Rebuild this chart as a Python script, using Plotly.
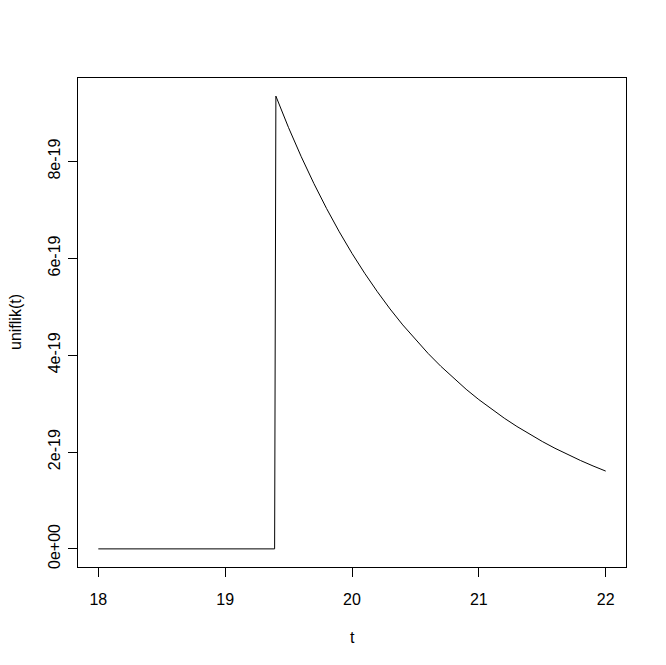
import plotly.graph_objects as go

# values
t_vals = [18.0, 19.39, 19.4, 19.5, 19.6, 19.7, 19.8, 19.9, 20.0, 20.1, 20.2, 20.3, 20.4,
          20.5, 20.6, 20.7, 20.8, 20.9, 21.0, 21.1, 21.2, 21.3, 21.4, 21.5, 21.6,
          21.7, 21.8, 21.9, 22.0]
lik_vals = [0.0, 0.0, 9.351e-19, 8.699e-19, 8.099e-19, 7.543e-19, 7.027e-19, 6.548e-19,
            6.103e-19, 5.692e-19, 5.311e-19, 4.955e-19, 4.626e-19, 4.320e-19, 4.036e-19,
            3.772e-19, 3.525e-19, 3.296e-19, 3.083e-19, 2.885e-19, 2.700e-19, 2.528e-19,
            2.367e-19, 2.218e-19, 2.078e-19, 1.948e-19, 1.827e-19, 1.713e-19, 1.607e-19]

x_ticks = [18, 19, 20, 21, 22]
x_ticklabels = ["18", "19", "20", "21", "22"]
y_ticks = [0, 2e-19, 4e-19, 6e-19, 8e-19]
y_ticklabels = ["0e+00", "2e-19", "4e-19", "6e-19", "8e-19"]

FONT = "Liberation Sans, Arial, sans-serif"

fig = go.Figure()
fig.add_trace(go.Scatter(x=t_vals, y=lik_vals, mode="lines",
                         line=dict(color="black", width=1), showlegend=False,
                         hoverinfo="skip"))

# page body has an 8px margin; plot area should sit at x 78..626, y 78..567
fig.update_layout(
    width=650, height=649,
    margin=dict(l=70, r=32, t=70, b=90),
    paper_bgcolor="white", plot_bgcolor="white",
    font=dict(family=FONT, size=16, color="black"),
    xaxis=dict(range=[17.84, 22.16], tickvals=x_ticks, ticktext=x_ticklabels,
               showgrid=False, zeroline=False, showline=True, mirror=True,
               linecolor="black", linewidth=1, ticks="outside", ticklen=9,
               tickcolor="black", tickwidth=1, ticklabelstandoff=9,
               tickfont=dict(size=16, family=FONT)),
    yaxis=dict(range=[-0.374e-19, 9.725e-19], tickvals=y_ticks, ticktext=y_ticklabels,
               showgrid=False, zeroline=False, showline=True, mirror=True,
               linecolor="black", linewidth=1, ticks="outside", ticklen=9,
               tickcolor="black", tickwidth=1, tickangle=-90, ticklabelstandoff=2,
               tickfont=dict(size=16, family=FONT)),
    annotations=[
        dict(text="t", x=0.5, y=(567 - 637) / 489, xref="paper", yref="paper",
             showarrow=False, xanchor="center", yanchor="middle",
             font=dict(size=16, family=FONT)),
        dict(text="uniflik(t)", x=(15 - 78) / 548, y=(567 - 322) / 489,
             xref="paper", yref="paper", showarrow=False, textangle=-90,
             xanchor="center", yanchor="middle", font=dict(size=16, family=FONT)),
    ],
)

fig.write_html("out.html")
